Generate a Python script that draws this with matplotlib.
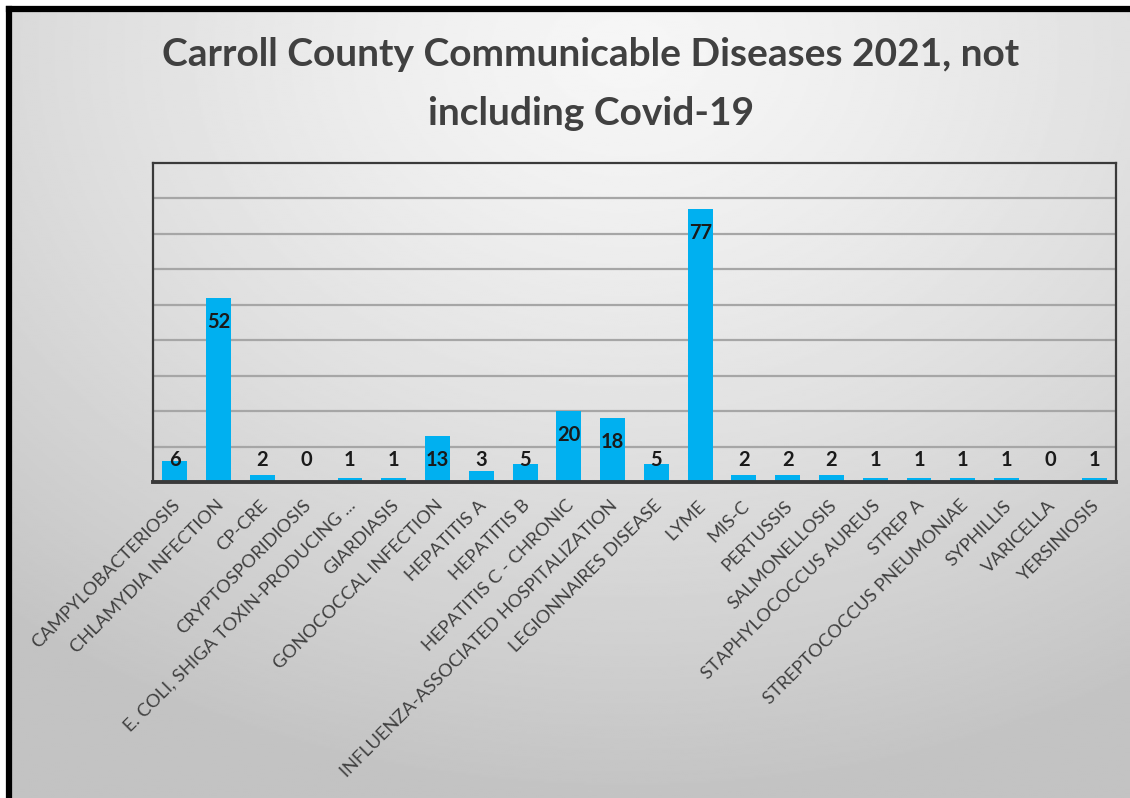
import matplotlib.pyplot as plt
import matplotlib.transforms as mtransforms
import numpy as np
from matplotlib.lines import Line2D

diseases = [
    "CAMPYLOBACTERIOSIS", "CHLAMYDIA INFECTION", "CP-CRE", "CRYPTOSPORIDIOSIS",
    "E. COLI, SHIGA TOXIN-PRODUCING ...", "GIARDIASIS", "GONOCOCCAL INFECTION",
    "HEPATITIS A", "HEPATITIS B", "HEPATITIS C - CHRONIC",
    "INFLUENZA-ASSOCIATED HOSPITALIZATION", "LEGIONNAIRES DISEASE", "LYME",
    "MIS-C", "PERTUSSIS", "SALMONELLOSIS", "STAPHYLOCOCCUS AUREUS", "STREP A",
    "STREPTOCOCCUS PNEUMONIAE", "SYPHILLIS", "VARICELLA", "YERSINIOSIS",
]
cases = [6, 52, 2, 0, 1, 1, 13, 3, 5, 20, 18, 5, 77, 2, 2, 2, 1, 1, 1, 1, 0, 1]

title = "Carroll County Communicable Diseases 2021, not\nincluding Covid-19"

W, H = 1130, 798
fig = plt.figure(figsize=(W / 100, H / 100), dpi=100)
fig.patch.set_facecolor("white")

# slide background: soft radial gray gradient
bg = fig.add_axes([12 / W, 0, 1 - 12 / W, 1 - 12 / H])
yy, xx = np.mgrid[0:1:400j, 0:1:560j]
r = np.sqrt(((xx - 0.55) * 1.1) ** 2 + ((yy - 0.05) * 1.0) ** 2)
shade = 0.965 - 0.2 * np.clip(r / 0.95, 0, 1) ** 1.3
bg.imshow(shade, cmap="gray", vmin=0, vmax=1, aspect="auto",
          extent=[0, 1, 1, 0], interpolation="bilinear")
bg.axis("off")

# black slide border on top and left
fig.add_artist(Line2D([9 / W, 1], [1 - 9 / H, 1 - 9 / H], color="black", lw=4.5,
                      transform=fig.transFigure))
fig.add_artist(Line2D([9 / W, 9 / W], [0, 1 - 9 / H], color="black", lw=4.5,
                      transform=fig.transFigure))

fig.text(0.523, 1 - 84 / H, title, ha="center", va="center", fontsize=28,
         fontweight="bold", color="#404040", family="Lato", linespacing=1.85)

ax = fig.add_axes([153 / W, 1 - 482 / H, 963 / W, 319 / H])
ax.patch.set_alpha(0)
x = np.arange(len(diseases))
ax.bar(x, cases, width=0.57, color="#00B0F0", zorder=2)
ax.set_xlim(-0.5, len(diseases) - 0.5)
ax.set_ylim(0, 90)
ax.set_yticks(np.arange(10, 90, 10))
ax.yaxis.grid(True, color="#a6a6a6", lw=1.6, zorder=1)
ax.tick_params(axis="y", length=0, labelleft=False)
ax.tick_params(axis="x", length=0, pad=11)
for side in ["top", "left", "right"]:
    ax.spines[side].set_color("#3a3a3a")
    ax.spines[side].set_linewidth(1.6)
ax.spines["bottom"].set_color("#3a3a3a")
ax.spines["bottom"].set_linewidth(2.8)
ax.spines["bottom"].set_zorder(3)

ax.set_xticks(x)
ax.set_xticklabels(diseases, rotation=45, ha="right", va="top",
                   rotation_mode="anchor", fontsize=13.2, color="#404040",
                   family="Lato")
offset = mtransforms.ScaledTranslation(-3 / 100, 0, fig.dpi_scale_trans)
for lbl in ax.get_xticklabels():
    lbl.set_transform(lbl.get_transform() + offset)

# data labels at inside end, kept above the axis for short bars
for xi, v in zip(x, cases):
    ax.text(xi, max(v - 6.8, 6.2), str(v), ha="center", va="center",
            fontsize=14.5, fontweight="bold", color="#1a1a1a", zorder=4,
            family="Lato")

fig.savefig("out.png", dpi=100)
